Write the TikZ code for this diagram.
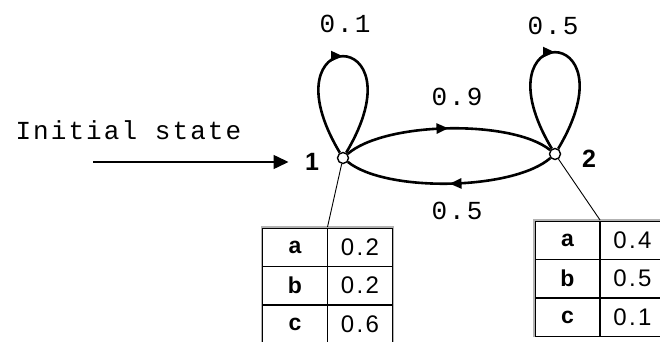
\documentclass[tikz,border=0pt]{standalone}
\usepackage{fontspec}
\setmainfont{Liberation Sans}
\newfontfamily\monolbl{Liberation Mono}[LetterSpace=8]
\newfontfamily\tblnum{Liberation Sans}[LetterSpace=10]
\usetikzlibrary{arrows.meta,positioning,matrix,decorations.markings}

\begin{document}
\begin{tikzpicture}[x=1pt,y=1pt,>=Triangle,
  st/.style={circle,draw,fill=white,line width=1.4pt,inner sep=0pt,minimum size=11pt},
  trans/.style={line width=2.6pt,postaction={decorate},
    decoration={markings,mark=at position 0.5 with {\arrow{Triangle[length=12pt,width=10pt]}}}},
  prob/.style={font=\fontsize{26}{26}\monolbl},
  num/.style={font=\fontsize{25}{25}\selectfont\bfseries},
  tbl/.style={matrix of nodes,inner sep=0pt,column sep=-1.4pt,row sep=-1.4pt,
    nodes={draw,line width=1.4pt,minimum width=65pt,minimum height=38.5pt,inner sep=0pt,anchor=center},
    column 1/.style={nodes={font=\fontsize{23}{23}\selectfont\bfseries}},
    column 2/.style={nodes={font=\fontsize{24}{24}\tblnum}}}]
  \clip (0,0) rectangle (660,342);
  % states
  \node[st] (s1) at (343,184) {};
  \node[st] (s2) at (555,188) {};
  \node[num] (n1) at (312,180) {1};
  \node[num] (n2) at (589,183) {2};
  % initial arrow
  \node[prob,anchor=west] (init) at (12,212) {Initial state};
  \coordinate (istart) at (93,180);
  \draw[line width=1.4pt,-{Triangle[length=15pt,width=14pt]},shorten >=13pt] (istart) -- (n1);
  % transitions
  \draw[trans] (s1) .. controls +(-80,134) and +(80,134) .. (s1);
  \draw[trans] (s2) .. controls +(-80,134) and +(80,134) .. (s2);
  \draw[trans] (s1) to[bend left=40,looseness=0.62] (s2);
  \draw[trans] (s2) to[bend left=40,looseness=0.62] (s1);
  \node[prob] (p11) at (345,318) {0.1};
  \node[prob] (p22) at (553,316) {0.5};
  \node[prob] (p12) at (457,245) {0.9};
  \node[prob] (p21) at (457,131) {0.5};
  % emission tables
  \matrix[tbl,anchor=north] (t1) at (327.5,115) {a & 0.2\\ b & 0.2\\ c & 0.6\\};
  \matrix[tbl,anchor=north] (t2) at (600,122) {a & 0.4\\ b & 0.5\\ c & 0.1\\};
  \draw[gray!60,line width=1.4pt] (t1.south west) -- (t1.north west) -- (t1.north east) -- (t1.south east);
  \draw[gray!60,line width=1.4pt] (t2.south west) -- (t2.north west) -- (t2.north east);
  \draw[line width=0.9pt] (s1) -- (t1.north);
  \draw[line width=0.9pt] (s2) -- (t2.north);
\end{tikzpicture}
\end{document}
